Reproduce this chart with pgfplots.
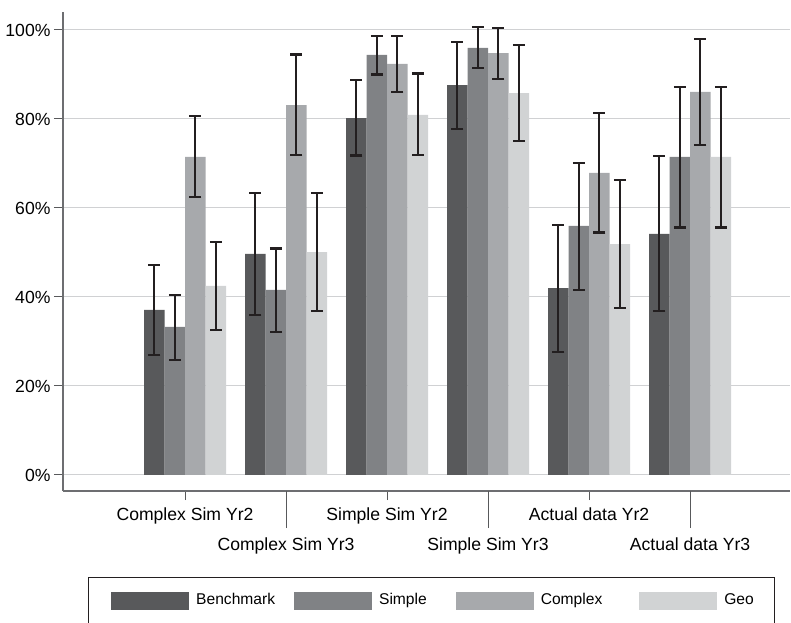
\documentclass[border=0pt]{standalone}
\usepackage{pgfplots}
\pgfplotsset{compat=1.18}
\usepackage{pgfplotstable}
\usepackage{fontspec}
\setmainfont{Liberation Sans}
\definecolor{cBench}{HTML}{58595B}
\definecolor{cSimple}{HTML}{808285}
\definecolor{cComplex}{HTML}{A7A9AC}
\definecolor{cGeo}{HTML}{D1D3D4}
\definecolor{cErr}{HTML}{231F20}
\definecolor{cAxis}{HTML}{6D6E71}
\definecolor{cTick}{HTML}{58595B}
\definecolor{cGrid}{HTML}{D0D1D3}

\pgfplotstableread{
x y hi lo
0 37.1 47.2 26.9
1 49.7 63.4 36.0
2 80.2 88.8 71.8
3 87.6 97.3 77.8
4 42.0 56.1 27.7
5 54.2 71.7 36.9
}\bench
\pgfplotstableread{
x y hi lo
0 33.3 40.5 25.8
1 41.6 50.9 32.1
2 94.4 98.7 90.0
3 96.0 100.7 91.4
4 56.0 70.1 41.6
5 71.5 87.1 55.6
}\simple
\pgfplotstableread{
x y hi lo
0 71.5 80.6 62.4
1 83.1 94.5 71.9
2 92.4 98.7 86.0
3 94.8 100.4 89.0
4 67.9 81.3 54.5
5 86.1 98.0 74.2
}\complex
\pgfplotstableread{
x y hi lo
0 42.5 52.3 32.6
1 50.1 63.4 36.9
2 80.9 90.2 71.9
3 85.8 96.7 75.1
4 51.9 66.3 37.6
5 71.5 87.1 55.6
}\geo

\begin{document}
\begin{tikzpicture}
\begin{axis}[
  scale only axis, width=727pt, height=479pt,
  xmin=-1.208, xmax=5.99, ymin=-3.6, ymax=104.04,
  axis lines*=left,
  axis line style={draw=cAxis, line width=1.6pt},
  ybar=0pt, bar width=20.5pt,
  ytick={0,20,...,100},
  yticklabel={\pgfmathprintnumber{\tick}\%},
  ymajorgrids, grid style={draw=cGrid, line width=1pt},
  xtick={0,2,4},
  xticklabels={Complex Sim Yr2,Simple Sim Yr2,Actual data Yr2},
  xticklabel style={yshift=-4pt},
  extra x ticks={1,3,5},
  extra x tick labels={Complex Sim Yr3,Simple Sim Yr3,Actual data Yr3},
  extra x tick style={grid=none, major tick length=37pt, xticklabel style={yshift=-2pt}},
  tick align=outside, major tick length=9pt,
  major tick style={draw=cTick, line width=1pt},
  tick label style={font=\fontsize{17.6}{20}\selectfont, text=black},
  /pgf/number format/assume math mode=true,
  legend columns=4,
  legend image code/.code={\fill[#1] (0pt,-9pt) rectangle (78pt,9pt);},
  legend style={at={(0.0344,-0.1795)}, anchor=north west, draw=none,
    inner xsep=23pt, inner ysep=15pt,
    font=\fontsize{15.6}{18}\selectfont,
    nodes={inner sep=0pt, text height=0.72em, text depth=0pt},
    /tikz/column sep=7pt,
    /tikz/column 2/.append style={column sep=19pt},
    /tikz/column 4/.append style={column sep=29pt},
    /tikz/column 6/.append style={column sep=37pt}},
  legend cell align=left,
  error bars/y dir=both, error bars/y explicit,
  error bars/error bar style={draw=cErr, line width=2.2pt},
  error bars/error mark options={rotate=90, mark size=6pt, line width=2.2pt, draw=cErr},
]
\addplot[fill=cBench, draw=none] table[x=x, y=y, y error plus expr=\thisrow{hi}-\thisrow{y}, y error minus expr=\thisrow{y}-\thisrow{lo}] {\bench};
\addplot[fill=cSimple, draw=none] table[x=x, y=y, y error plus expr=\thisrow{hi}-\thisrow{y}, y error minus expr=\thisrow{y}-\thisrow{lo}] {\simple};
\addplot[fill=cComplex, draw=none] table[x=x, y=y, y error plus expr=\thisrow{hi}-\thisrow{y}, y error minus expr=\thisrow{y}-\thisrow{lo}] {\complex};
\addplot[fill=cGeo, draw=none] table[x=x, y=y, y error plus expr=\thisrow{hi}-\thisrow{y}, y error minus expr=\thisrow{y}-\thisrow{lo}] {\geo};
\legend{Benchmark,Simple,Complex,Geo}
\coordinate (sw) at (rel axis cs:0,0);
\end{axis}
\draw[cErr, line width=1pt] ([shift={(25pt,-86pt)}]sw) rectangle ([shift={(711pt,-136pt)}]sw);
\pgfresetboundingbox
\path[use as bounding box] ([shift={(-63pt,-131pt)}]sw) rectangle ([shift={(728pt,491pt)}]sw);
\end{tikzpicture}
\end{document}
